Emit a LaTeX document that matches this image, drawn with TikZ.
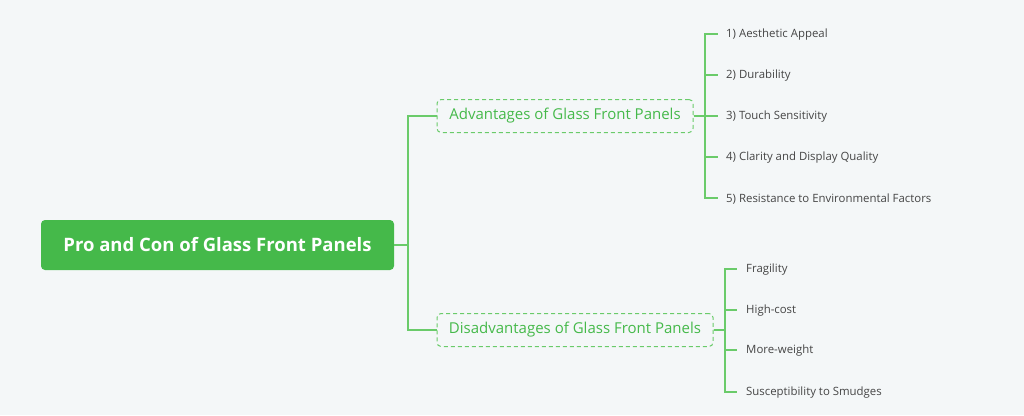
\documentclass[tikz,border=0pt]{standalone}
\usepackage{fontspec}
\setmainfont{Open Sans}
\definecolor{bg}{HTML}{F4F7F8}
\definecolor{gr}{HTML}{45B94A}
\definecolor{ln}{HTML}{6ACB6A}
\definecolor{tx}{HTML}{454545}
\begin{document}
\begin{tikzpicture}[x=1pt,y=-1pt,
  conn/.style={ln,line width=1.6pt},
  branch/.style={draw=ln,dash pattern=on 4pt off 3pt,line width=1pt,rounded corners=4pt,text=gr,font=\fontsize{15}{17}\selectfont,minimum height=33pt,inner xsep=10pt},
  item/.style={anchor=west,text=tx,font=\fontsize{11.4}{13}\selectfont,inner sep=0pt}]
\fill[bg] (0,0) rectangle (1024,415);
\useasboundingbox (0,0) rectangle (1024,415);
\node[fill=gr,rounded corners=4pt,text=white,font=\bfseries\fontsize{18.5}{22}\selectfont,minimum width=353pt,minimum height=50pt] (root) at (217.5,245) {Pro and Con of Glass Front Panels};
\node[branch,minimum width=256pt] (adv) at (565,116) {Advantages of Glass Front Panels};
\node[branch,minimum width=276pt] (dis) at (575,330) {Disadvantages of Glass Front Panels};
\coordinate (t) at (408,245);
\draw[conn] (root.east) -- (t);
\draw[conn] (adv.west) -| (t) |- (dis.west);
\foreach \i/\y/\s in {1/35/1) Aesthetic Appeal,2/76/2) Durability,3/117/3) Touch Sensitivity,4/158/4) Clarity and Display Quality,5/199/5) Resistance to Environmental Factors}{
  \node[item] (a\i) at (726,\y) {\s};
  \draw[conn] (adv.east) -- (705,116) |- ([xshift=-8pt,yshift=1pt]a\i.west);
}
\foreach \i/\y/\s in {1/270/Fragility,2/311/High-cost,3/351/More-weight,4/393/Susceptibility to Smudges}{
  \node[item] (d\i) at (746,\y) {\s};
  \draw[conn] (dis.east) -- (725,330) |- ([xshift=-9pt,yshift=1pt]d\i.west);
}
\end{tikzpicture}
\end{document}
